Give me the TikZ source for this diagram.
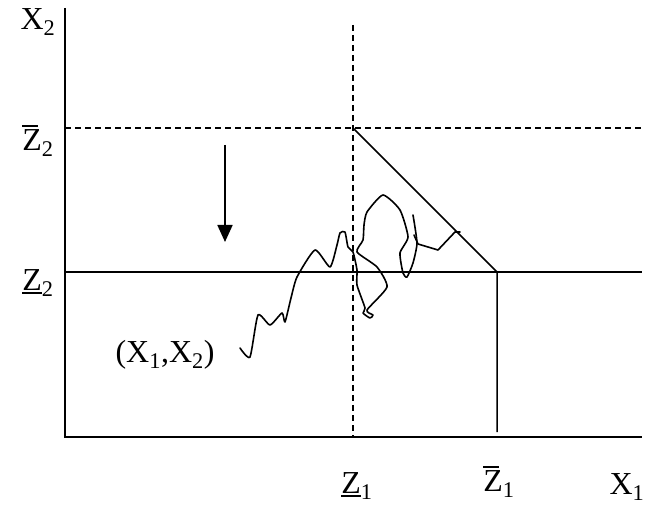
\documentclass[tikz,border=0pt]{standalone}
\usepackage{fontspec}
\setmainfont{Liberation Serif}
\usetikzlibrary{arrows.meta}
\newcommand{\sbs}[2]{#1\textsubscript{#2}}
\newcommand{\barZ}[1]{\rlap{\rule[0.72em]{0.5em}{0.06em}}Z\textsubscript{#1}}
\newcommand{\ulZ}[1]{\rlap{\rule[-0.12em]{0.62em}{0.06em}}Z\textsubscript{#1}}
\begin{document}
\begin{tikzpicture}[x=1pt,y=-1pt,line width=1.5pt,
  lbl/.style={inner sep=0pt,font=\fontsize{32}{38}\selectfont},
  guide/.style={line width=1.3pt,dash pattern=on 6pt off 4pt},
  path/.style={line width=1.6pt,line join=round,line cap=round}]
 \useasboundingbox (0,0) rectangle (649,508);
 % axes
 \coordinate (o) at (65,437);
 \coordinate (ytop) at (65,8);
 \coordinate (xend) at (642,437);
 \draw[line width=1.8pt] (ytop) -- (o) -- (xend);
 % dashed levels
 \coordinate (c) at (353,128);
 \draw[guide] (353,25) -- (353,437);
 \draw[guide] (65,128) -- (642,128);
 % solid lower level, kink and drop
 \coordinate (k) at (497,272);
 \draw (65,272) -- (642,272);
 \draw (c) -- (k) -- (497,432);
 % drift arrow
 \coordinate (a1) at (225,145); \coordinate (a2) at (225,242);
 \draw[line width=1.8pt,-{Triangle[width=15pt,length=17pt]}] (a1) -- (a2);
 % sample path
 \draw[path] plot[smooth,tension=0.35] coordinates {
  (240,348) (250,357) (258,315) (270,325) (282,313) (285,322) (291,298)
  (297,277) (315,250) (330,267) (337,245) (340,233) (345,232) (348,247)
  (353,252) (357,270) (357,285) (365,308) (363,313) (370,318) (373,315)
  (367,310) (387,287) (377,267) (357,252) (363,240) (364,225) (367,212)
  (383,195) (400,210) (408,237) (400,253) (403,273) (407,277) (413,263)
  (417,243) (413,215)};
 \draw[path] (414,235) -- (418,244) -- (438,250) -- (455,232) -- (460,232);
 % labels
 \node[lbl] (lx2) at (38,22) {\sbs{X}{2}};
 \node[lbl] (lzb2) at (38,141) {\barZ{2}};
 \node[lbl] (lz2) at (38,283) {\ulZ{2}};
 \node[lbl] (lz1) at (357,486) {\ulZ{1}};
 \node[lbl] (lzb1) at (499,482) {\barZ{1}};
 \node[lbl] (lx1) at (627,487) {\sbs{X}{1}};
 \node[lbl] (pt) at (165,355) {(\sbs{X}{1},\sbs{X}{2})};
\end{tikzpicture}
\end{document}
